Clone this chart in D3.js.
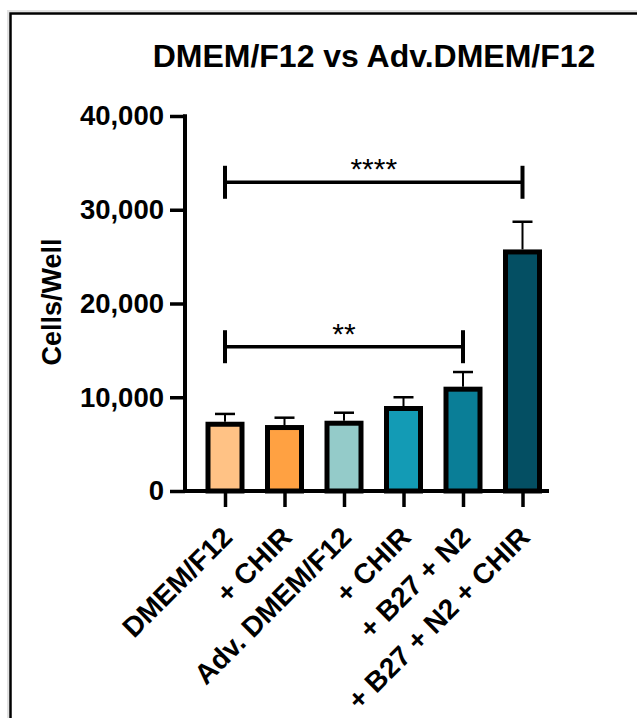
<!DOCTYPE html>
<html>
<head>
<meta charset="utf-8">
<script src="https://cdn.jsdelivr.net/npm/d3@7"></script>
<style>
  body { margin: 0; background: #fff; }
  svg { display: block; font-family: "Liberation Sans", Arial, sans-serif; }
</style>
</head>
<body>
<svg width="637" height="718"></svg>
<script>
//groups on the x axis
const groups = ["DMEM/F12", "+ CHIR", "Adv. DMEM/F12", "+ CHIR", "+ B27 + N2", "+ B27 + N2 + CHIR"];
//mean cells per well
const means = [7120, 6770, 7230, 8800, 10860, 25500];
//upper error (SD)
const errs = [1100, 1050, 1120, 1200, 1830, 3220];
//bar fill colours
const colors = ["#ffc285", "#ffa142", "#94cbc9", "#139bb5", "#0a7e97", "#044f63"];
//y ticks
const yTicks = [0, 10000, 20000, 30000, 40000];
//significance brackets (index from, index to, height, label)
const sig = [
    { from: 0, to: 5, y: 32930, label: "****" },
    { from: 0, to: 4, y: 15390, label: "**" }
];

const svg = d3.select("svg");
const ids = groups.map((d, i) => i);

//frame around the figure
svg.append("rect")
    .attr("x", 8).attr("y", 11)
    .attr("width", 700).attr("height", 800)
    .attr("fill", "none").attr("stroke", "#e2e2e2").attr("stroke-width", 2);
svg.append("rect")
    .attr("x", 10.5).attr("y", 13.5)
    .attr("width", 700).attr("height", 800)
    .attr("fill", "none").attr("stroke", "#000").attr("stroke-width", 2.5);

//scales
const x = d3.scalePoint()
    .domain(ids)
    .range([225, 522.5]);
const y = d3.scaleLinear()
    .domain([0, 40000])
    .range([491, 116]);

const axisX0 = 185, axisX1 = 549;

//title
svg.append("text")
    .attr("x", 374)
    .attr("y", 67)
    .attr("text-anchor", "middle")
    .attr("font-size", "32px")
    .attr("font-weight", "bold")
    .text("DMEM/F12 vs Adv.DMEM/F12");

//y axis
const gy = svg.append("g")
    .attr("transform", `translate(${axisX0}, 0)`)
    .call(d3.axisLeft(y).tickValues(yTicks).tickSize(15).tickSizeOuter(0).tickPadding(6)
        .tickFormat(d3.format(",")));
gy.select(".domain").remove();
gy.selectAll(".tick line").attr("stroke", "#000").attr("stroke-width", 3.5);
gy.selectAll(".tick text")
    .attr("font-size", "27.5px")
    .attr("font-weight", "bold")
    .attr("fill", "#000")
    .attr("font-family", "Liberation Sans, Arial, sans-serif");
gy.append("line")
    .attr("x1", 0).attr("x2", 0)
    .attr("y1", y(40000) - 1.75).attr("y2", y(0) + 1.75)
    .attr("stroke", "#000").attr("stroke-width", 4);

//y label
svg.append("text")
    .attr("transform", "translate(61, 302) rotate(-90)")
    .attr("text-anchor", "middle")
    .attr("font-size", "27px")
    .attr("font-weight", "bold")
    .text("Cells/Well");

//bars
const bw = 34;
svg.selectAll(".bar")
    .data(ids)
    .enter()
    .append("rect")
    .attr("class", "bar")
    .attr("x", i => x(i) - bw / 2)
    .attr("y", i => y(means[i]))
    .attr("width", bw)
    .attr("height", i => y(0) - y(means[i]))
    .attr("fill", i => colors[i])
    .attr("stroke", "#000")
    .attr("stroke-width", 5);

//error bars (upper only)
const eb = svg.selectAll(".err")
    .data(ids)
    .enter()
    .append("g")
    .attr("class", "err");
eb.append("line")
    .attr("x1", i => x(i)).attr("x2", i => x(i))
    .attr("y1", i => y(means[i]) - 2.5)
    .attr("y2", i => y(means[i] + errs[i]))
    .attr("stroke", "#000").attr("stroke-width", 2);
eb.append("line")
    .attr("x1", i => x(i) - 10).attr("x2", i => x(i) + 10)
    .attr("y1", i => y(means[i] + errs[i]))
    .attr("y2", i => y(means[i] + errs[i]))
    .attr("stroke", "#000").attr("stroke-width", 2.5);

//x axis
const gx = svg.append("g")
    .attr("transform", `translate(0, ${y(0)})`)
    .call(d3.axisBottom(x).tickSize(16).tickSizeOuter(0).tickFormat(""));
gx.select(".domain").remove();
gx.selectAll(".tick line").attr("stroke", "#000").attr("stroke-width", 3.5);
gx.append("line")
    .attr("x1", axisX0 - 2).attr("x2", axisX1)
    .attr("y1", 0).attr("y2", 0)
    .attr("stroke", "#000").attr("stroke-width", 4);

//rotated category labels
svg.selectAll(".xlab")
    .data(ids)
    .enter()
    .append("text")
    .attr("class", "xlab")
    .attr("transform", i => `translate(${x(i) + 9}, ${y(0) + 48}) rotate(-45)`)
    .attr("text-anchor", "end")
    .attr("font-size", "28px")
    .attr("font-weight", "bold")
    .text(i => groups[i]);

//significance brackets
const br = svg.selectAll(".sig")
    .data(sig)
    .enter()
    .append("g")
    .attr("class", "sig");
br.append("line")
    .attr("x1", d => x(d.from)).attr("x2", d => x(d.to))
    .attr("y1", d => y(d.y)).attr("y2", d => y(d.y))
    .attr("stroke", "#000").attr("stroke-width", 3.5);
br.append("line")
    .attr("x1", d => x(d.from)).attr("x2", d => x(d.from))
    .attr("y1", d => y(d.y) - 16.5).attr("y2", d => y(d.y) + 16.5)
    .attr("stroke", "#000").attr("stroke-width", 4);
br.append("line")
    .attr("x1", d => x(d.to)).attr("x2", d => x(d.to))
    .attr("y1", d => y(d.y) - 16.5).attr("y2", d => y(d.y) + 16.5)
    .attr("stroke", "#000").attr("stroke-width", 4);
br.append("text")
    .attr("x", d => (x(d.from) + x(d.to)) / 2)
    .attr("y", d => y(d.y) - 3)
    .attr("text-anchor", "middle")
    .attr("font-size", "30px")
    .text(d => d.label);
</script>
</body>
</html>
